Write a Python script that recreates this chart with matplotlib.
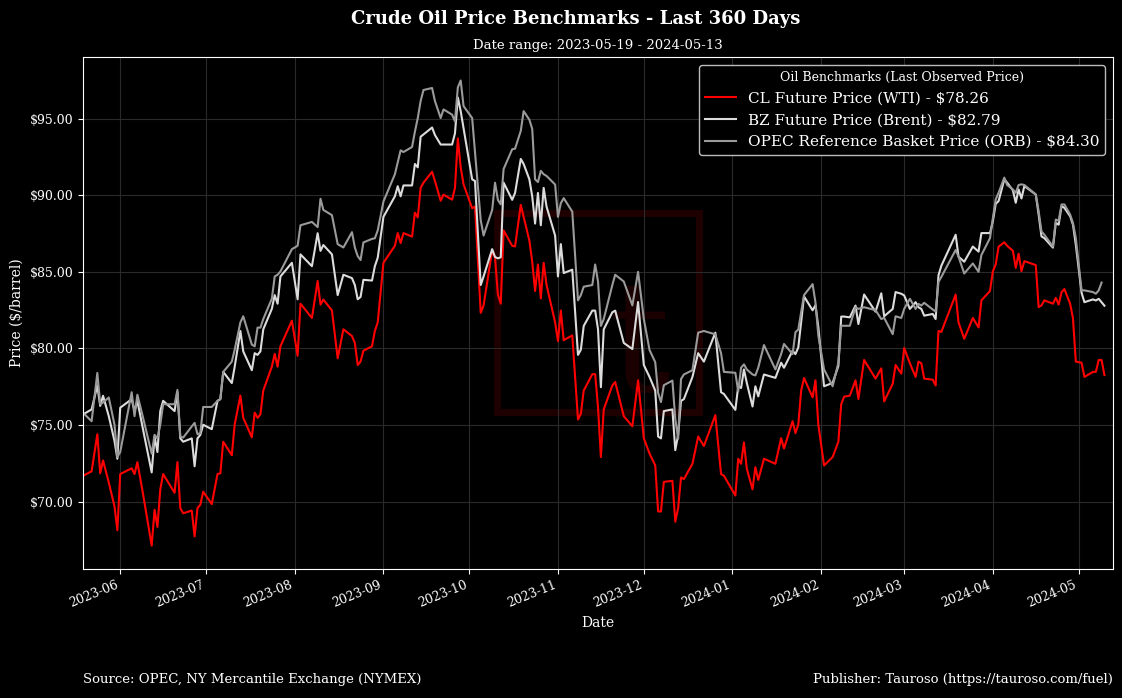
import numpy as np
import pandas as pd
import matplotlib
matplotlib.use("Agg")
import matplotlib.pyplot as plt
import matplotlib.dates as mdates
from matplotlib.patches import Rectangle
from matplotlib.ticker import FuncFormatter

# 日期（读图得到的折线顶点）
dates = [
    "2023-05-19", "2023-05-22", "2023-05-24", "2023-05-25", "2023-05-26", "2023-05-28", "2023-05-30", "2023-05-31",
    "2023-06-01", "2023-06-05", "2023-06-06", "2023-06-07", "2023-06-09", "2023-06-12", "2023-06-13", "2023-06-14",
    "2023-06-15", "2023-06-16", "2023-06-20", "2023-06-21", "2023-06-22", "2023-06-23", "2023-06-26", "2023-06-27",
    "2023-06-28", "2023-06-29", "2023-06-30", "2023-07-03", "2023-07-05", "2023-07-06", "2023-07-07", "2023-07-10",
    "2023-07-11", "2023-07-13", "2023-07-14", "2023-07-17", "2023-07-18", "2023-07-19", "2023-07-20", "2023-07-21",
    "2023-07-24", "2023-07-25", "2023-07-26", "2023-07-27", "2023-07-31", "2023-08-02", "2023-08-03", "2023-08-07",
    "2023-08-09", "2023-08-10", "2023-08-11", "2023-08-14", "2023-08-16", "2023-08-18", "2023-08-21", "2023-08-22",
    "2023-08-23", "2023-08-24", "2023-08-25", "2023-08-28", "2023-08-29", "2023-08-30", "2023-09-01", "2023-09-05",
    "2023-09-06", "2023-09-07", "2023-09-08", "2023-09-11", "2023-09-12", "2023-09-13", "2023-09-14", "2023-09-15",
    "2023-09-18", "2023-09-19", "2023-09-21", "2023-09-22", "2023-09-25", "2023-09-26", "2023-09-27", "2023-09-28",
    "2023-09-29", "2023-10-02", "2023-10-03", "2023-10-05", "2023-10-06", "2023-10-09", "2023-10-10", "2023-10-11",
    "2023-10-12", "2023-10-13", "2023-10-16", "2023-10-17", "2023-10-19", "2023-10-20", "2023-10-22", "2023-10-23",
    "2023-10-24", "2023-10-25", "2023-10-26", "2023-10-27", "2023-10-28", "2023-10-31", "2023-11-01", "2023-11-02",
    "2023-11-03", "2023-11-06", "2023-11-08", "2023-11-09", "2023-11-10", "2023-11-13", "2023-11-14", "2023-11-15",
    "2023-11-16", "2023-11-17", "2023-11-20", "2023-11-21", "2023-11-24", "2023-11-27", "2023-11-29", "2023-12-01",
    "2023-12-03", "2023-12-05", "2023-12-06", "2023-12-07", "2023-12-08", "2023-12-11", "2023-12-12", "2023-12-13",
    "2023-12-14", "2023-12-15", "2023-12-18", "2023-12-20", "2023-12-22", "2023-12-26", "2023-12-28", "2023-12-29",
    "2024-01-02", "2024-01-03", "2024-01-04", "2024-01-05", "2024-01-06", "2024-01-08", "2024-01-09", "2024-01-10",
    "2024-01-12", "2024-01-16", "2024-01-18", "2024-01-19", "2024-01-22", "2024-01-23", "2024-01-24", "2024-01-25",
    "2024-01-26", "2024-01-29", "2024-01-30", "2024-01-31", "2024-02-02", "2024-02-05", "2024-02-07", "2024-02-08",
    "2024-02-09", "2024-02-11", "2024-02-13", "2024-02-14", "2024-02-16", "2024-02-20", "2024-02-22", "2024-02-23",
    "2024-02-26", "2024-02-27", "2024-02-29", "2024-03-01", "2024-03-03", "2024-03-05", "2024-03-06", "2024-03-07",
    "2024-03-08", "2024-03-11", "2024-03-12", "2024-03-13", "2024-03-14", "2024-03-19", "2024-03-20", "2024-03-22",
    "2024-03-25", "2024-03-27", "2024-03-28", "2024-03-31", "2024-04-01", "2024-04-02", "2024-04-03", "2024-04-05",
    "2024-04-06", "2024-04-08", "2024-04-09", "2024-04-10", "2024-04-11", "2024-04-12", "2024-04-16", "2024-04-17",
    "2024-04-18", "2024-04-19", "2024-04-22", "2024-04-23", "2024-04-24", "2024-04-25", "2024-04-26", "2024-04-28",
    "2024-04-29", "2024-04-30", "2024-05-02", "2024-05-03", "2024-05-06", "2024-05-07", "2024-05-08", "2024-05-09",
    "2024-05-10",
]

# WTI 原油期货
wti = [
    71.69, 71.98, 74.40, 71.85, 72.69, 71.25, 69.69, 68.13,
    71.80, 72.18, 71.80, 72.58, 70.47, 67.13, 69.47, 68.35,
    70.80, 71.80, 70.58, 72.58, 69.58, 69.24, 69.42, 67.73,
    69.58, 69.80, 70.65, 69.84, 71.80, 71.85, 73.91, 73.03,
    75.03, 76.92, 75.47, 74.20, 75.81, 75.47, 75.69, 77.25,
    78.81, 79.65, 78.81, 80.14, 81.81, 79.52, 82.92, 81.99,
    84.41, 82.86, 83.19, 82.48, 79.36, 81.25, 80.81, 80.36,
    78.92, 79.14, 79.85, 80.14, 81.14, 81.70, 85.59, 86.70,
    87.53, 86.88, 87.53, 87.30, 88.86, 88.55, 90.48, 90.82,
    91.53, 90.93, 89.64, 90.04, 89.71, 90.48, 93.71, 91.82,
    90.71, 89.15, 89.26, 82.32, 82.81, 86.41, 85.93, 83.52,
    82.92, 87.70, 86.70, 86.66, 89.37, 88.59, 87.04, 85.66,
    83.75, 85.48, 83.26, 85.59, 84.15, 81.70, 80.48, 82.48,
    80.54, 80.85, 75.36, 75.74, 77.25, 78.32, 78.32, 76.14,
    72.91, 76.03, 77.58, 77.81, 75.58, 74.92, 77.92, 74.14,
    73.14, 72.36, 69.36, 69.36, 71.29, 71.36, 68.69, 69.58,
    71.58, 71.47, 72.47, 74.25, 73.63, 75.65, 71.80, 71.69,
    70.40, 72.80, 72.47, 73.87, 72.14, 70.80, 72.25, 71.42,
    72.80, 72.47, 74.14, 73.47, 75.25, 74.47, 75.03, 77.25,
    78.07, 76.81, 77.92, 75.03, 72.36, 72.91, 73.91, 76.36,
    76.85, 76.92, 77.92, 76.70, 79.25, 78.03, 78.70, 76.54,
    77.70, 78.92, 78.36, 80.03, 79.03, 78.14, 79.14, 79.03,
    78.03, 77.96, 77.58, 81.14, 81.08, 83.52, 81.70, 80.63,
    81.99, 81.37, 83.14, 83.75, 85.04, 85.48, 86.64, 86.93,
    86.70, 86.37, 85.26, 86.19, 85.04, 85.70, 85.44, 82.70,
    82.81, 83.14, 82.92, 83.30, 82.86, 83.66, 83.88, 82.92,
    81.97, 79.14, 79.07, 78.14, 78.47, 78.47, 79.25, 79.25,
    78.26,
]

# Brent 原油期货
brent = [
    75.69, 76.02, 77.58, 76.25, 76.91, 75.58, 73.96, 72.80,
    76.13, 76.69, 75.91, 76.58, 74.69, 71.91, 74.25, 73.24,
    75.91, 76.58, 75.91, 77.14, 74.13, 73.91, 74.13, 72.31,
    74.13, 74.36, 75.02, 74.73, 76.58, 76.69, 78.47, 77.74,
    78.80, 81.14, 79.81, 78.58, 79.69, 79.58, 79.81, 81.25,
    82.59, 83.48, 82.92, 84.70, 85.59, 83.21, 86.14, 85.37,
    87.52, 86.37, 86.75, 86.14, 83.48, 84.81, 84.59, 84.14,
    83.21, 83.36, 84.48, 84.43, 85.37, 85.92, 88.59, 89.93,
    90.59, 89.93, 90.64, 90.64, 92.04, 91.82, 93.82, 93.97,
    94.42, 93.93, 93.31, 93.31, 93.31, 94.04, 96.38, 95.49,
    94.37, 91.04, 90.93, 84.14, 84.70, 86.48, 85.97, 85.88,
    85.95, 90.82, 89.70, 90.15, 92.37, 92.04, 91.04, 89.93,
    88.15, 90.15, 88.04, 90.48, 89.26, 87.37, 84.70, 86.81,
    84.92, 85.14, 79.58, 79.92, 81.47, 82.47, 82.47, 81.25,
    77.47, 81.25, 82.36, 82.47, 80.36, 79.96, 83.03, 78.92,
    78.14, 77.25, 74.25, 74.13, 75.91, 76.02, 73.36, 74.36,
    76.58, 76.69, 78.14, 79.69, 79.14, 81.03, 77.14, 77.03,
    75.99, 77.53, 77.42, 78.63, 77.75, 76.21, 77.53, 76.87,
    78.30, 78.08, 79.07, 78.74, 79.85, 79.63, 80.07, 81.72,
    83.40, 82.49, 82.82, 81.39, 77.53, 77.75, 78.85, 82.08,
    82.08, 82.03, 82.80, 81.59, 83.52, 82.40, 83.60, 82.10,
    82.58, 83.68, 83.57, 83.46, 82.58, 83.02, 82.69, 82.58,
    82.14, 82.25, 81.92, 84.78, 85.40, 87.42, 85.99, 85.66,
    86.65, 86.32, 87.53, 87.53, 88.30, 89.44, 89.62, 91.04,
    90.82, 90.32, 89.51, 90.38, 89.79, 90.60, 90.05, 88.74,
    87.31, 87.20, 86.58, 88.19, 88.08, 89.29, 89.18, 88.63,
    88.08, 86.76, 83.64, 83.02, 83.20, 83.13, 83.24, 83.02,
    82.79,
]

# OPEC 一揽子参考价（最后一天无数据）
orb = [
    75.80, 75.25, 78.40, 76.36, 76.47, 76.80, 75.02, 72.91,
    73.24, 77.14, 75.58, 76.98, 75.47, 73.13, 74.36, 74.13,
    75.02, 76.36, 76.36, 77.29, 74.25, 74.18, 74.91, 75.14,
    74.40, 74.47, 76.18, 76.18, 76.58, 76.69, 78.47, 79.14,
    79.92, 81.70, 82.10, 80.25, 80.14, 81.36, 81.36, 81.92,
    83.25, 84.70, 84.81, 85.03, 86.48, 86.70, 88.04, 88.26,
    87.92, 89.77, 89.04, 88.70, 86.81, 86.59, 87.59, 86.59,
    86.03, 85.77, 86.92, 87.15, 87.19, 87.70, 89.59, 91.37,
    92.15, 92.93, 92.82, 93.15, 94.15, 95.04, 96.15, 96.87,
    97.00, 96.15, 95.04, 95.60, 95.26, 94.82, 97.04, 97.49,
    95.82, 95.04, 92.82, 88.37, 87.37, 89.04, 90.82, 89.70,
    89.40, 91.71, 93.00, 93.04, 94.20, 95.49, 94.93, 94.33,
    91.04, 90.86, 91.59, 91.37, 91.26, 90.70, 88.59, 89.48,
    89.81, 88.93, 83.14, 83.48, 84.03, 84.14, 85.48, 84.37,
    81.47, 81.92, 84.14, 84.81, 84.37, 82.81, 85.00, 81.93,
    79.90, 79.10, 77.10, 76.50, 77.60, 77.90, 75.40, 74.10,
    78.00, 78.30, 78.58, 81.03, 81.14, 80.92, 79.69, 78.47,
    78.41, 77.20, 78.74, 78.96, 78.63, 78.30, 78.24, 78.74,
    80.22, 78.63, 79.63, 80.29, 79.63, 81.06, 81.23, 82.38,
    83.48, 84.20, 83.00, 80.84, 78.63, 77.53, 79.07, 81.48,
    81.48, 81.48, 82.69, 82.58, 82.69, 82.50, 81.92, 82.00,
    80.93, 82.10, 81.99, 82.58, 83.24, 82.58, 82.91, 82.80,
    82.98, 82.54, 82.41, 84.34, 84.67, 86.43, 85.99, 84.89,
    85.55, 85.00, 86.10, 87.20, 88.50, 89.73, 90.16, 91.15,
    90.67, 90.38, 90.16, 90.67, 90.71, 90.67, 90.05, 88.96,
    87.64, 87.42, 86.65, 88.41, 88.34, 89.40, 89.40, 88.74,
    88.19, 87.20, 83.79, 83.79, 83.68, 83.57, 83.79, 84.30,
    np.nan,
]

series_names = ["CL Future Price (WTI)", "BZ Future Price (Brent)", "OPEC Reference Basket Price (ORB)"]
series_colors = ["#ff0000", "#dcdcdc", "#9a9a9a"]
start_date, end_date = "2023-05-19", "2024-05-13"

df = pd.DataFrame({"wti": wti, "brent": brent, "orb": orb}, index=pd.to_datetime(dates))

plt.rcParams["font.family"] = ["DejaVu Serif"]

fig = plt.figure(figsize=(11.22, 6.98), dpi=100, facecolor="black")
ax = fig.add_axes([0.074, 0.185, 0.918, 0.733])
ax.set_facecolor("black")

# 水印（放在线的下面）
ax.add_patch(Rectangle((0.443, 0.41), 0.18, 0.285, transform=fig.transFigure,
                       fill=False, edgecolor="#1e0000", linewidth=5, zorder=0.5))
ax.text(0.57, 0.50, "t", transform=fig.transFigure, color="#1a0000", fontsize=110,
        ha="center", va="center", zorder=0.5)

for col, name, color in zip(["wti", "brent", "orb"], series_names, series_colors):
    s = df[col].dropna()
    ax.plot(s.index, s.values, color=color, linewidth=1.5, zorder=2,
            label=f"{name} - ${s.iloc[-1]:.2f}")

ax.set_xlim(pd.Timestamp(start_date), pd.Timestamp(end_date))
ax.xaxis.set_major_locator(mdates.MonthLocator())
ax.xaxis.set_major_formatter(mdates.DateFormatter("%Y-%m"))
ax.yaxis.set_major_formatter(FuncFormatter(lambda v, p: f"${v:.2f}"))
for lab in ax.get_xticklabels():
    lab.set_rotation(22)
    lab.set_ha("right")

ax.tick_params(colors="white", labelsize=9)
for sp in ax.spines.values():
    sp.set_color("white")
ax.grid(True, color="#2a2a2a", linewidth=0.8)
ax.set_axisbelow(True)

ax.set_xlabel("Date", color="white", fontsize=10)
ax.set_ylabel("Price ($/barrel)", color="white", fontsize=10)
ax.set_title(f"Date range: {start_date} - {end_date}", color="white", fontsize=9.5, pad=6)
fig.suptitle("Crude Oil Price Benchmarks - Last 360 Days", color="white",
             fontsize=13, fontweight="bold", x=0.513, y=0.985)

leg = ax.legend(loc="upper right", title="Oil Benchmarks (Last Observed Price)",
                fontsize=11, title_fontsize=9, facecolor="black", edgecolor="#bbbbbb",
                framealpha=1, labelcolor="white")
leg.get_title().set_color("white")
leg.set_zorder(5)

fig.text(0.074, 0.022, "Source: OPEC, NY Mercantile Exchange (NYMEX)", color="white", fontsize=9.5)
fig.text(0.992, 0.022, "Publisher: Tauroso (https://tauroso.com/fuel)", color="white",
         fontsize=9.5, ha="right")

fig.savefig("out.png", dpi=100, facecolor="black")
